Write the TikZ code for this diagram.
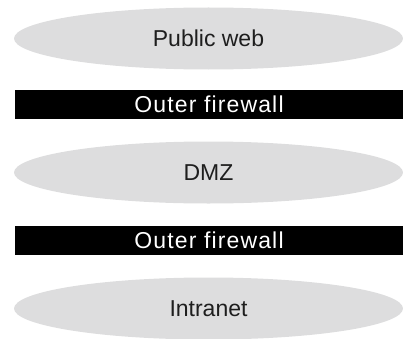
\documentclass[tikz,border=0pt]{standalone}
\usepackage{fontspec}
\setmainfont{Liberation Sans}
\usepackage{xcolor}
\usepackage{tikz}
\usetikzlibrary{shapes.geometric}
\definecolor{zonegray}{RGB}{221,221,222}
\definecolor{labelink}{RGB}{30,30,30}
\tikzset{
	zone/.style={
		ellipse,
		fill=zonegray,
		text=labelink,
		inner sep=0pt,
		minimum width=389,
		minimum height=62,
		font=\fontsize{23}{27}\selectfont,
		text height=16.5pt,
		text depth=0pt,
	},
	wall/.style={
		rectangle,
		fill=black,
		text=white,
		inner sep=0pt,
		minimum width=388,
		minimum height=29,
		font=\fontsize{23}{27}\selectfont\addfontfeature{LetterSpace=5},
		text height=16.5pt,
		text depth=0pt,
	},
}

\begin{document}
\begin{tikzpicture}[x=1pt,y=1pt]
			\useasboundingbox (0,0) rectangle (403,338);
			% Zones
			\node[zone] (web) at (208.5,299.5) {Public web};
			\node[zone] (dmz) at (208.5,165.5) {DMZ};
			\node[zone] (intranet) at (208.5,29.5) {Intranet};
			
			% Firewalls between the zones
			\node[wall] (outer) at (209,233.5) {Outer firewall};
			\node[wall] (inner) at (209,97.5) {Outer firewall};
		\end{tikzpicture}
\end{document}
